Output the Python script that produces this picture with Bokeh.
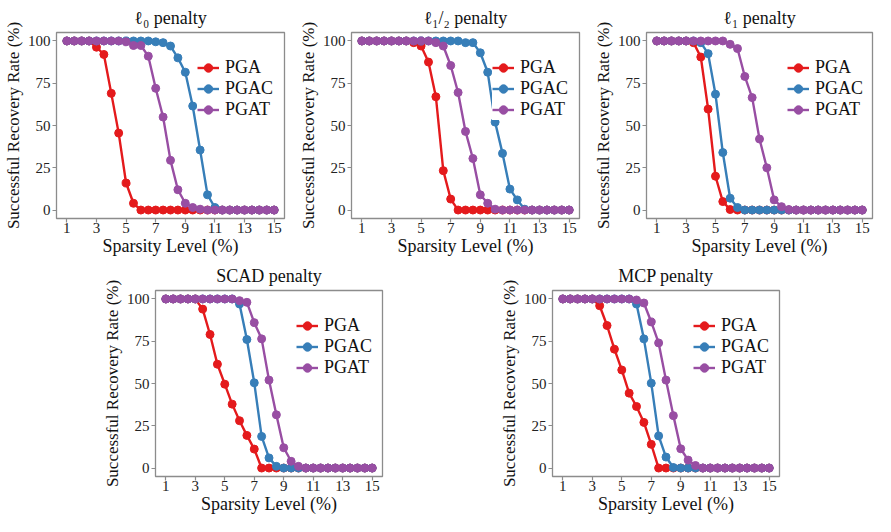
from bokeh.plotting import figure
from bokeh.layouts import column, row
from bokeh.models import Spacer, FixedTicker, Range1d, Legend
from bokeh.embed import file_html
from bokeh.resources import INLINE

sparsity = [1, 1.5, 2, 2.5, 3, 3.5, 4, 4.5, 5, 5.5, 6, 6.5, 7, 7.5, 8, 8.5, 9, 9.5,
            10, 10.5, 11, 11.5, 12, 12.5, 13, 13.5, 14, 14.5, 15]
series_names = ["PGA", "PGAC", "PGAT"]
x_ticks = [1, 3, 5, 7, 9, 11, 13, 15]
y_ticks = [0, 25, 50, 75, 100]

l0_pga = [100, 100, 100, 100, 96.3, 92, 69, 45.5, 16, 4, 0, 0, 0, 0, 0, 0, 0, 0, 0, 0, 0, 0, 0, 0, 0, 0, 0, 0, 0]
l0_pgac = [100, 100, 100, 100, 100, 100, 100, 100, 100, 100, 100, 100, 99.5, 99, 97, 90, 81.5, 61.5, 35.5, 9, 1.5, 0, 0, 0, 0, 0, 0, 0, 0]
l0_pgat = [100, 100, 100, 100, 100, 100, 100, 100, 99.5, 97.3, 97.3, 91, 72, 55, 29.4, 12, 4, 1.5, 0.5, 0, 0, 0, 0, 0, 0, 0, 0, 0, 0]

lhalf_pga = [100, 100, 100, 100, 100, 100, 100, 99, 97, 87.5, 67, 23.3, 6.5, 0, 0, 0, 0, 0, 0, 0, 0, 0, 0, 0, 0, 0, 0, 0, 0]
lhalf_pgac = [100, 100, 100, 100, 100, 100, 100, 100, 100, 100, 100, 100, 100, 100, 99, 99, 93, 81.5, 52, 33.5, 12.4, 6, 0.5, 0, 0, 0, 0, 0, 0]
lhalf_pgat = [100, 100, 100, 100, 100, 100, 100, 100, 100, 100, 99, 97, 85.5, 69.5, 46.5, 30.5, 9, 4, 0.5, 0, 0, 0, 0, 0, 0, 0, 0, 0, 0]

l1_pga = [100, 100, 100, 100, 100, 99, 90.5, 59.7, 20, 5, 0.3, 0, 0, 0, 0, 0, 0, 0, 0, 0, 0, 0, 0, 0, 0, 0, 0, 0, 0]
l1_pgac = [100, 100, 100, 100, 100, 100, 99, 92.5, 68.5, 34, 7, 1.5, 0, 0, 0, 0, 0, 0, 0, 0, 0, 0, 0, 0, 0, 0, 0, 0, 0]
l1_pgat = [100, 100, 100, 100, 100, 100, 100, 100, 100, 100, 98, 95.5, 79, 66.5, 42, 25, 6, 2, 0.3, 0, 0, 0, 0, 0, 0, 0, 0, 0, 0]

scad_pga = [100, 100, 100, 100, 100, 94, 79, 61.4, 49.6, 37.8, 28, 19.3, 11.2, 0, 0, 0, 0, 0, 0, 0, 0, 0, 0, 0, 0, 0, 0, 0, 0]
scad_pgac = [100, 100, 100, 100, 100, 100, 100, 100, 100, 100, 97, 76, 50.4, 18.7, 6, 1, 0, 0, 0, 0, 0, 0, 0, 0, 0, 0, 0, 0, 0]
scad_pgat = [100, 100, 100, 100, 100, 100, 100, 100, 100, 100, 99, 98, 86, 76.4, 52, 31.5, 12, 4, 1, 0, 0, 0, 0, 0, 0, 0, 0, 0, 0]

mcp_pga = [100, 100, 100, 100, 100, 96, 84.3, 70.3, 58, 44.3, 36.4, 27, 14, 0, 0, 0, 0, 0, 0, 0, 0, 0, 0, 0, 0, 0, 0, 0, 0]
mcp_pgac = [100, 100, 100, 100, 100, 100, 100, 100, 100, 100, 97, 76.4, 50.2, 19, 6.5, 0.3, 0, 0, 0, 0, 0, 0, 0, 0, 0, 0, 0, 0, 0]
mcp_pgat = [100, 100, 100, 100, 100, 100, 100, 100, 100, 100, 99.4, 97.6, 86.4, 74, 52, 31, 11.4, 4.7, 1.5, 0, 0, 0, 0, 0, 0, 0, 0, 0, 0]

colors = ["#E41A1C", "#377EB8", "#984EA3"]
SERIF = "'Liberation Serif', 'Times New Roman', serif"
GREY = "#8c8c8c"


def make_panel(title, ys, width, right_border):
    p = figure(width=width, height=258, output_backend="svg", toolbar_location=None,
               x_range=Range1d(0.3, 15.7), y_range=Range1d(-5, 105),
               min_border_left=46, min_border_right=right_border,
               min_border_top=23, min_border_bottom=40)
    p.title.text = title
    p.title.align = "center"
    p.title.text_font = SERIF
    p.title.text_font_size = "18px"
    p.title.text_font_style = "normal"
    p.title.text_color = "#111111"
    p.xgrid.visible = False
    p.ygrid.visible = False
    p.outline_line_color = GREY
    p.outline_line_width = 1.3
    p.background_fill_color = "white"
    p.border_fill_color = "white"
    for ax in (p.xaxis[0], p.yaxis[0]):
        ax.axis_line_color = None
        ax.major_tick_line_color = GREY
        ax.major_tick_line_width = 1.2
        ax.major_tick_out = 4
        ax.major_tick_in = 0
        ax.minor_tick_line_color = None
        ax.major_label_text_font = SERIF
        ax.major_label_text_font_size = "15px"
        ax.major_label_text_color = "#222222"
        ax.axis_label_text_font = SERIF
        ax.axis_label_text_font_style = "normal"
        ax.axis_label_text_color = "#111111"
    p.xaxis[0].axis_label_text_font_size = "18px"
    p.yaxis[0].axis_label_text_font_size = "17px"
    p.xaxis[0].ticker = FixedTicker(ticks=x_ticks)
    p.yaxis[0].ticker = FixedTicker(ticks=y_ticks)
    p.xaxis[0].axis_label = "Sparsity Level (%)"
    p.yaxis[0].axis_label = "Successful Recovery Rate (%)"
    p.xaxis[0].axis_label_standoff = 0
    p.yaxis[0].axis_label_standoff = 2
    p.xaxis[0].major_label_standoff = 0
    p.yaxis[0].major_label_standoff = 2

    items = []
    for name, y, c in zip(series_names, ys, colors):
        r1 = p.line(sparsity, y, line_color=c, line_width=2.4)
        r2 = p.scatter(sparsity, y, marker="circle", size=8, fill_color=c, line_color=c)
        items.append((name, [r1, r2]))
    leg = Legend(items=items, location=(141, 98))
    leg.label_text_font = SERIF
    leg.label_text_font_size = "18px"
    leg.label_text_color = "#111111"
    leg.label_height = 21
    leg.glyph_height = 21
    leg.glyph_width = 22
    leg.label_standoff = 6
    leg.spacing = 0
    leg.padding = 9
    leg.margin = 0
    leg.border_line_color = None
    leg.background_fill_color = "white"
    leg.background_fill_alpha = 1.0
    p.add_layout(leg, "center")
    return p


p1 = make_panel("ℓ₀ penalty", [l0_pga, l0_pgac, l0_pgat], 295, 11)
p2 = make_panel("ℓ₁/₂ penalty", [lhalf_pga, lhalf_pgac, lhalf_pgat], 295, 11)
p3 = make_panel("ℓ₁ penalty", [l1_pga, l1_pgac, l1_pgat], 285, 3)
p4 = make_panel("SCAD penalty", [scad_pga, scad_pgac, scad_pgat], 291, 8)
p5 = make_panel("MCP penalty", [mcp_pga, mcp_pgac, mcp_pgat], 291, 8)

layout = column(row(p1, p2, p3),
                row(Spacer(width=99, height=258), p4, Spacer(width=106, height=258), p5))

open("out.html", "w").write(file_html(layout, INLINE))
